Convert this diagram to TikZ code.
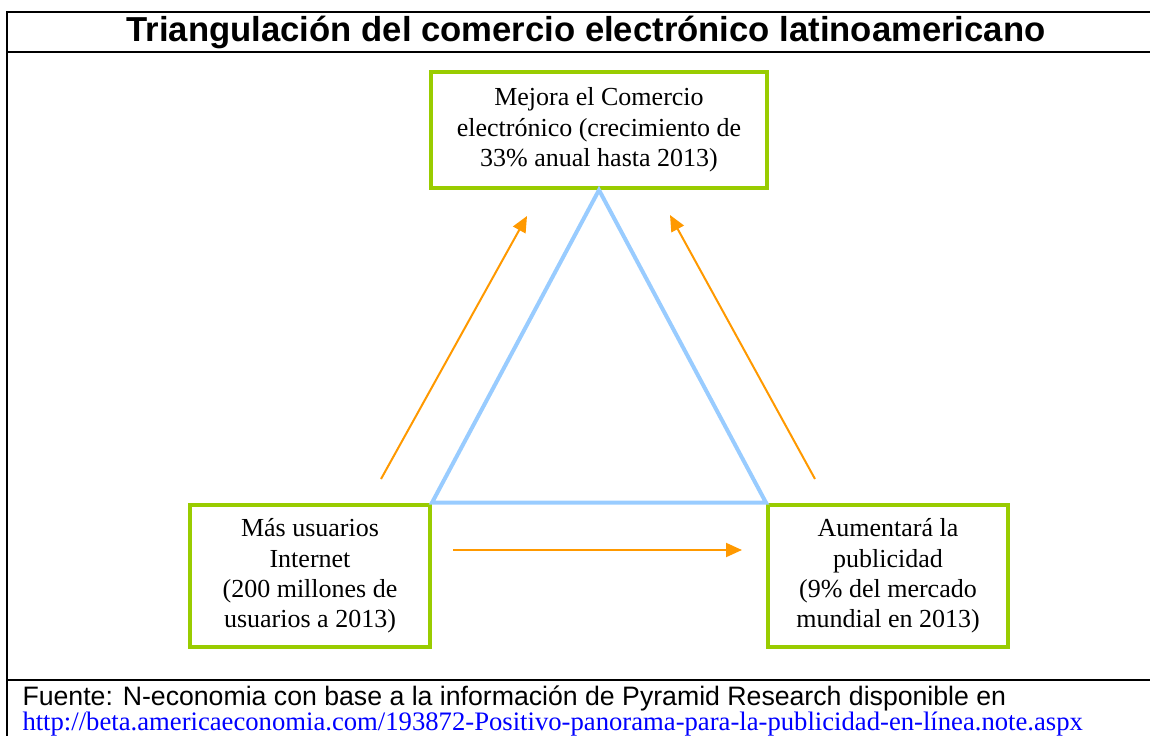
\documentclass[tikz,border=0pt]{standalone}
\usepackage{fontspec}
\setmainfont{Liberation Serif}
\newfontfamily\arialfont{Liberation Sans}
\usetikzlibrary{arrows.meta}

\definecolor{verdecaja}{RGB}{153,204,0}
\definecolor{azultri}{RGB}{153,204,255}
\definecolor{naranja}{RGB}{255,153,0}
\definecolor{azulurl}{RGB}{0,0,255}

\tikzset{every picture/.style={line width=0.75pt}}
\tikzset{
	caja/.style={draw=verdecaja, line width=3pt, inner sep=0pt, align=center,
		font=\fontsize{19.5}{22.75}\selectfont},
	flecha/.style={draw=naranja, line width=1.5pt, -{Triangle[length=12pt,width=10.5pt]}},
	marco/.style={line width=1.5pt}}

\begin{document}
\begin{tikzpicture}[x=0.75pt,y=0.75pt,yscale=-1,xscale=1]
	\useasboundingbox (0,0) rectangle (1150,736);

	%Frame lines
	\draw [marco] (6,12) -- (1150,12) ;
	\draw [marco] (6,52) -- (1150,52) ;
	\draw [marco] (6,680) -- (1150,680) ;
	\draw [marco] (7,12) -- (7,736) ;

	% Text Node
	\node (titulo) at (586,32) {\arialfont\bfseries\fontsize{26}{30}\selectfont Triangulación del comercio electrónico latinoamericano};

	%Shape: Rectangle
	\node [caja, minimum width=252pt, minimum height=87pt] (comercio) at (599,130) {Mejora el Comercio\\electrónico (crecimiento de\\33\% anual hasta 2013)};
	%Shape: Rectangle
	\node [caja, minimum width=180pt, minimum height=107pt] (usuarios) at (310,576) {Más usuarios\\Internet\\(200 millones de\\usuarios a 2013)};
	%Shape: Rectangle
	\node [caja, minimum width=180pt, minimum height=107pt] (publicidad) at (888,576) {Aumentará la\\publicidad\\(9\% del mercado\\mundial en 2013)};

	%Triangle
	\draw [azultri, line width=3pt, line join=miter] (comercio.south) -- (usuarios.north east) -- (publicidad.north west) -- cycle ;

	%Arrows
	\coordinate (a1) at (381,479) ;
	\coordinate (b1) at (527,216) ;
	\coordinate (a2) at (815,479) ;
	\coordinate (b2) at (670,215) ;
	\coordinate (a3) at (453,550) ;
	\coordinate (b3) at (742,550) ;
	\draw [flecha] (a1) -- (b1) ;
	\draw [flecha] (a2) -- (b2) ;
	\draw [flecha] (a3) -- (b3) ;

	% Text Node
	\node [anchor=base west, inner sep=0pt] (fuente) at (22,705) {\arialfont\fontsize{20}{22}\selectfont Fuente: N-economia con base a la información de Pyramid Research disponible en};
	% Text Node
	\node [anchor=base west, inner sep=0pt, text=azulurl] (enlace) at (22,730) {\fontsize{20}{22}\selectfont http://beta.americaeconomia.com/193872-Positivo-panorama-para-la-publicidad-en-línea.note.aspx};
\end{tikzpicture}
\end{document}
